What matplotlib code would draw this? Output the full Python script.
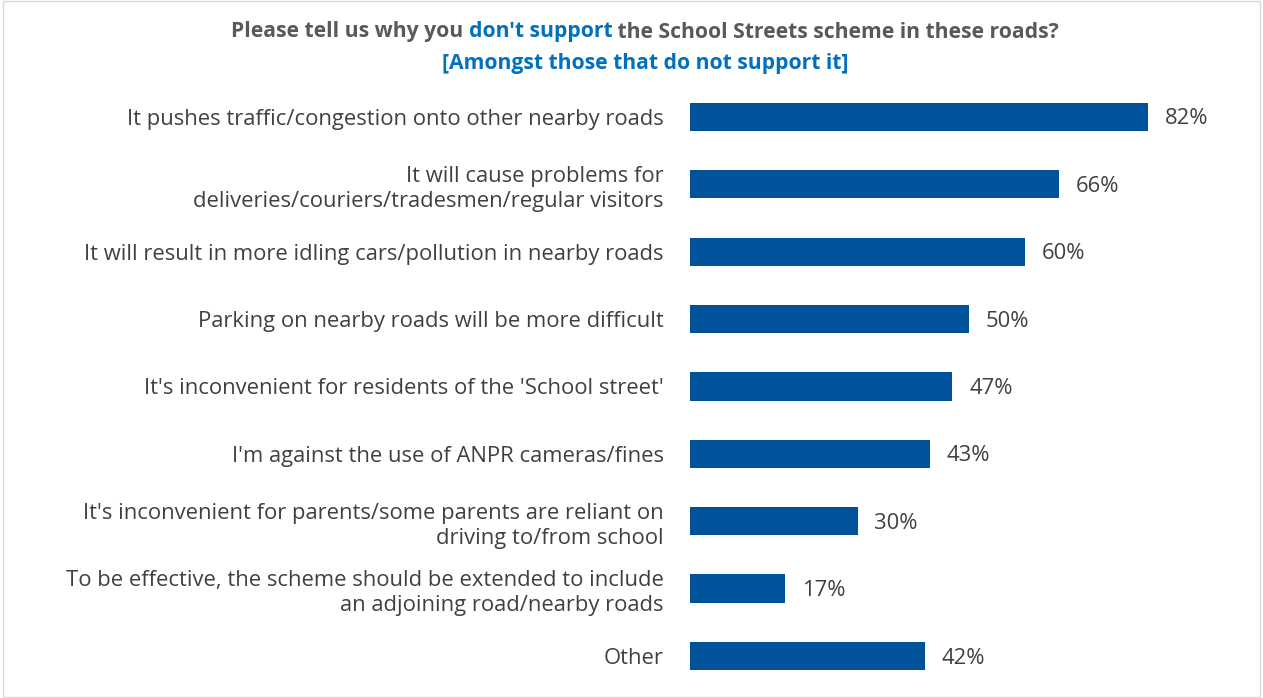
import matplotlib.pyplot as plt
from matplotlib.patches import Rectangle

plt.rcParams['font.family'] = ['Open Sans', 'DejaVu Sans']

# reasons, top to bottom
labels = [
    'It pushes traffic/congestion onto other nearby roads',
    'It will cause problems for\ndeliveries/couriers/tradesmen/regular visitors',
    'It will result in more idling cars/pollution in nearby roads',
    'Parking on nearby roads will be more difficult',
    "It's inconvenient for residents of the 'School street'",
    "I'm against the use of ANPR cameras/fines",
    "It's inconvenient for parents/some parents are reliant on\ndriving to/from school",
    'To be effective, the scheme should be extended to include\nan adjoining road/nearby roads',
    'Other',
]
values = [82, 66, 60, 50, 47, 43, 30, 17, 42]

bar_color = '#00529B'
text_gray = '#404040'
title_gray = '#595959'
title_blue = '#0070C0'

fig = plt.figure(figsize=(12.63, 6.98), dpi=100)
ax = fig.add_axes([0.5463, 0.0119, 0.398, 0.8688])

y = list(range(len(values)))
ax.barh(y, values, height=0.42, color=bar_color)
ax.set_ylim(len(values) - 0.5, -0.5)
ax.set_xlim(0, 90)
ax.set_yticks(y)
ax.set_yticklabels(labels, fontsize=15.8, color=text_gray, ha='right', linespacing=1.27)
ax.tick_params(axis='y', length=0, pad=19)
ax.set_xticks([])
for s in ax.spines.values():
    s.set_visible(False)

for yi, v in zip(y, values):
    ax.text(v + 3, yi + 0.03, f'{v}%', va='center', ha='left', fontsize=15.8, color=text_gray)

# title with a coloured part, pieced together
parts = [('Please tell us why you ', title_gray),
         ("don't support", title_blue),
         (' the School Streets scheme in these roads?', title_gray)]
r = fig.canvas.get_renderer()
widths = []
objs = []
for txt, c in parts:
    t = fig.text(0, 1 - 32 / 698, txt, color=c, fontsize=15.2, fontweight='bold',
                 va='center', ha='left')
    objs.append(t)
    widths.append(t.get_window_extent(r).width)
total = sum(widths)
x0 = 645 - total / 2
for t, w in zip(objs, widths):
    t.set_x(x0 / 1263)
    x0 += w
fig.text(645 / 1263, 1 - 63 / 698, '[Amongst those that do not support it]',
         color=title_blue, fontsize=15.2, fontweight='bold', ha='center', va='center')

fig.patches.append(Rectangle((0.002, 0.002), 0.996, 0.996, transform=fig.transFigure,
                             fill=False, edgecolor='#d9d9d9', linewidth=1))

fig.savefig('out.png', dpi=100)
